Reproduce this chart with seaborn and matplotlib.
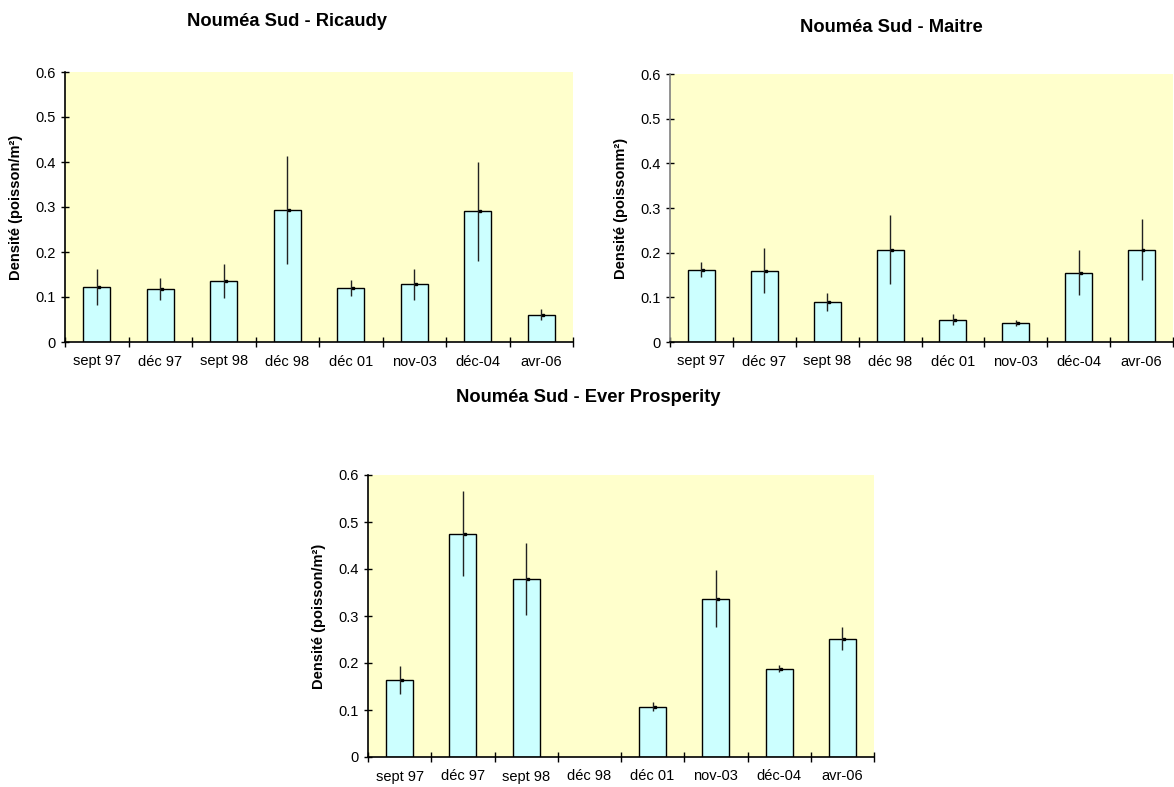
import numpy as np
import pandas as pd
import seaborn as sns
import matplotlib
matplotlib.use("Agg")
import matplotlib.pyplot as plt
from matplotlib.ticker import FixedLocator

# ---------------- data ----------------
categories = ["sept 97", "déc 97", "sept 98", "déc 98", "déc 01", "nov-03", "déc-04", "avr-06"]

ricaudy_vals = [0.123, 0.118, 0.136, 0.294, 0.120, 0.128, 0.291, 0.061]
ricaudy_err = [0.040, 0.025, 0.038, 0.120, 0.017, 0.035, 0.110, 0.012]

maitre_vals = [0.162, 0.160, 0.090, 0.207, 0.050, 0.042, 0.155, 0.207]
maitre_err = [0.016, 0.050, 0.020, 0.077, 0.012, 0.007, 0.050, 0.068]

ever_vals = [0.163, 0.475, 0.379, np.nan, 0.107, 0.337, 0.188, 0.252]
ever_err = [0.030, 0.090, 0.077, np.nan, 0.010, 0.060, 0.008, 0.025]

titles = ["Nouméa Sud - Ricaudy", "Nouméa Sud - Maitre", "Nouméa Sud - Ever Prosperity"]
ylabels = ["Densité (poisson/m²)", "Densité (poissonm²)", "Densité (poisson/m²)"]
yticks = [0, 0.1, 0.2, 0.3, 0.4, 0.5, 0.6]
ytick_labels = ["0", "0.1", "0.2", "0.3", "0.4", "0.5", "0.6"]

# ---------------- style ----------------
sns.set_theme(style="white")
plt.rcParams["font.family"] = ["Liberation Sans", "DejaVu Sans"]
plt.rcParams["text.color"] = "black"

W, H = 1174, 787
fig = plt.figure(figsize=(W / 100, H / 100), dpi=100)

def px_axes(left, right, top, bottom):
    return fig.add_axes([left / W, 1 - bottom / H, (right - left) / W, (bottom - top) / H])

panels = [
    dict(rect=(65, 573, 72, 342), vals=ricaudy_vals, err=ricaudy_err,
         title_xy=(287, 22), ylab_x=16, yspine="black"),
    dict(rect=(670, 1173, 74, 342), vals=maitre_vals, err=maitre_err,
         title_xy=(891, 27), ylab_x=621, yspine="#808080"),
    dict(rect=(368, 874, 475, 757), vals=ever_vals, err=ever_err,
         title_xy=(588, 398), ylab_x=319, yspine="black"),
]

for i, p in enumerate(panels):
    l, r, t, b = p["rect"]
    ax = px_axes(l, r, t, b)
    df = pd.DataFrame({"cat": categories, "val": p["vals"]})
    sns.barplot(data=df, x="cat", y="val", order=categories, ax=ax,
                color="#CCFFFF", saturation=1, edgecolor="black", linewidth=1.0,
                width=0.43, errorbar=None)
    xpos = np.arange(len(categories))
    vals = np.array(p["vals"], dtype=float)
    errs = np.array(p["err"], dtype=float)
    ax.errorbar(xpos, vals, yerr=errs, fmt="none", ecolor="#222222",
                elinewidth=1.0, capsize=0, zorder=4)
    ax.plot(xpos + 0.03, vals, linestyle="none", marker="s", markersize=1.8,
            color="black", zorder=5)

    ax.set_facecolor("#FFFFCC")
    ax.set_xlim(-0.5, len(categories) - 0.5)
    ax.set_ylim(0, 0.6)
    ax.set_yticks(yticks)
    ax.set_yticklabels(ytick_labels)
    ax.set_xlabel("")
    ax.set_ylabel("")

    for s in ["top", "right"]:
        ax.spines[s].set_visible(False)
    ax.spines["left"].set_color(p["yspine"])
    ax.spines["left"].set_linewidth(1.2)
    ax.spines["bottom"].set_color("black")
    ax.spines["bottom"].set_linewidth(1.2)

    ax.xaxis.set_minor_locator(FixedLocator(np.arange(len(categories) + 1) - 0.5))
    ax.tick_params(axis="x", which="major", length=0, pad=9, labelsize=10.5,
                   labelcolor="black")
    ax.tick_params(axis="x", which="minor", bottom=True, direction="inout",
                   length=7.5, width=1.0, color="black")
    ax.tick_params(axis="y", which="major", left=True, direction="inout",
                   length=5.5, width=1.0, color="black", pad=4, labelsize=10.5,
                   labelcolor="black")
    ax.grid(False)

    fig.text(p["title_xy"][0] / W, 1 - p["title_xy"][1] / H, titles[i],
             ha="center", va="center", fontsize=13.2, fontweight="bold",
             color="black")
    fig.text(p["ylab_x"] / W, 1 - ((t + b) / 2) / H, ylabels[i],
             ha="center", va="center", rotation=90, fontsize=10.5,
             fontweight="bold", color="black")

fig.savefig("out.png", dpi=100)
